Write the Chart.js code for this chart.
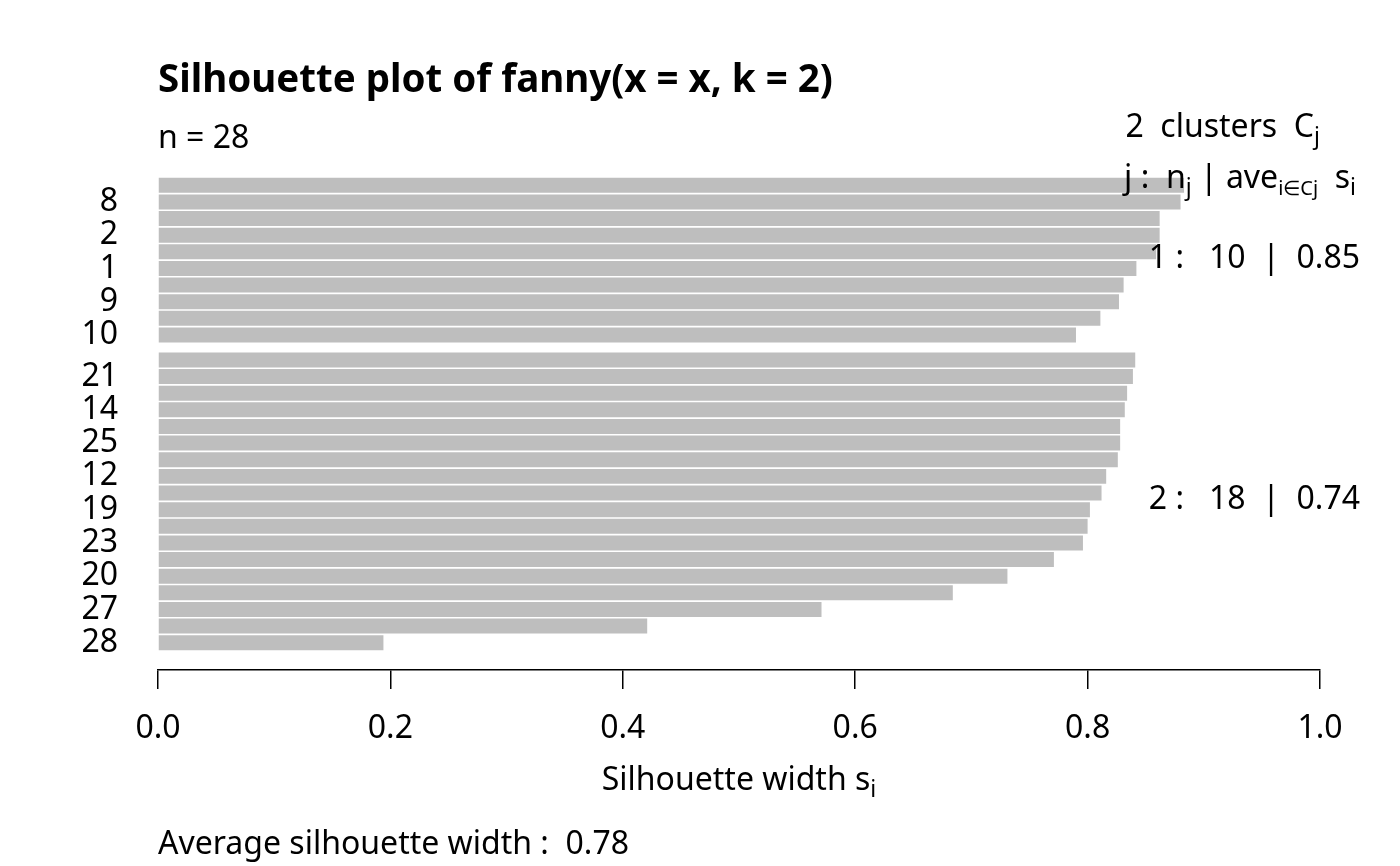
<!DOCTYPE html>
<html>
<head>
<meta charset="utf-8">
<script src="https://cdn.jsdelivr.net/npm/chart.js@4.4.0/dist/chart.umd.min.js"></script>
<style>
  html, body { margin: 0; padding: 0; background: #ffffff; }
  #wrap { width: 1400px; height: 866px; }
</style>
</head>
<body>
<div id="wrap"><canvas id="silhouetteChart" width="1400" height="866"></canvas></div>
<script>
// silhouette widths, sorted within each cluster
const cluster1Widths = [0.883, 0.880, 0.862, 0.862, 0.859, 0.842, 0.831, 0.827, 0.811, 0.790];
const cluster2Widths = [0.841, 0.839, 0.834, 0.832, 0.828, 0.828, 0.826, 0.816, 0.812,
                        0.802, 0.800, 0.796, 0.771, 0.731, 0.684, 0.571, 0.421, 0.194];
// observation labels, only the ones R could fit are printed
const cluster1Labels = ['', '8', '', '2', '', '1', '', '9', '', '10'];
const cluster2Labels = ['', '21', '', '14', '', '25', '', '12', '', '19', '', '23', '', '20', '', '27', '', '28'];
const clusterAverages = [0.85, 0.74];
const overallAverage = 0.78;
const xTickValues = [0, 0.2, 0.4, 0.6, 0.8, 1.0];

const FONT = '"Noto Sans", "Open Sans", sans-serif';
const TEXT = 32;   // margin text and tick labels

// bars stacked top-down, half a bar of space between clusters
const clusters = [
  { widths: cluster1Widths, labels: cluster1Labels },
  { widths: cluster2Widths, labels: cluster2Labels }
];
const points = [];
const tickLabels = {};
const clusterCenters = [];
let pos = 0;
clusters.forEach((c, k) => {
  if (k > 0) pos += 0.5;
  const start = pos;
  c.widths.forEach((w, i) => {
    const y = pos + 0.5;
    points.push({ x: w, y: y });
    if (c.labels[i]) tickLabels[y] = c.labels[i];
    pos += 1;
  });
  clusterCenters.push((start + pos) / 2);
});
const yPad = pos * 0.04;

// draws a string made of normal and subscript pieces
function drawRich(ctx, parts, x, y, align, size) {
  let total = 0;
  parts.forEach(p => {
    p.size = p.sub ? Math.round(size * (p.scale || 0.72)) : size;
    ctx.font = p.size + 'px ' + FONT;
    p.w = ctx.measureText(p.t).width;
    total += p.w;
  });
  let cx = align === 'right' ? x - total : align === 'center' ? x - total / 2 : x;
  ctx.textAlign = 'left';
  ctx.textBaseline = 'alphabetic';
  parts.forEach(p => {
    ctx.font = p.size + 'px ' + FONT;
    ctx.fillText(p.t, cx, p.sub ? y + size * 0.22 : y);
    cx += p.w;
  });
}

const annotations = {
  id: 'silAnnotations',
  afterDraw(chart) {
    const ctx = chart.ctx;
    const area = chart.chartArea;
    const yScale = chart.scales.y;
    ctx.save();
    ctx.fillStyle = '#000000';
    ctx.textAlign = 'left';
    ctx.textBaseline = 'alphabetic';
    ctx.font = 'bold 38.5px ' + FONT;
    ctx.fillText('Silhouette plot of fanny(x = x, k = 2)', area.left, 92);
    ctx.font = TEXT + 'px ' + FONT;
    ctx.fillText('n = ' + points.length, area.left, 148);

    drawRich(ctx, [{ t: clusters.length + '  clusters  C' }, { t: 'j', sub: true }],
      area.right, 137, 'right', TEXT);
    drawRich(ctx, [{ t: 'j :  n' }, { t: 'j', sub: true }, { t: ' | ave' },
      { t: 'i\u2208Cj', sub: true, scale: 0.62 }, { t: '  s' }, { t: 'i', sub: true }],
      area.right + 36, 188, 'right', TEXT);

    clusters.forEach((c, k) => {
      const cy = yScale.getPixelForValue(clusterCenters[k]);
      drawRich(ctx, [{ t: (k + 1) + ' :   ' + c.widths.length + '  |  ' + clusterAverages[k].toFixed(2) }],
        area.right + 40, cy + 8, 'right', TEXT);
    });

    drawRich(ctx, [{ t: 'Silhouette width s' }, { t: 'i', sub: true }],
      (area.left + area.right) / 2, 790, 'center', TEXT);
    ctx.font = TEXT + 'px ' + FONT;
    ctx.textAlign = 'left';
    ctx.fillText('Average silhouette width :  ' + overallAverage.toFixed(2), area.left, 854);
    ctx.restore();
  }
};

const ctx = document.getElementById('silhouetteChart').getContext('2d');
new Chart(ctx, {
  type: 'bar',
  data: {
    datasets: [{
      data: points,
      backgroundColor: '#bebebe',
      borderWidth: 0,
      barPercentage: 0.9,
      categoryPercentage: 1
    }]
  },
  options: {
    responsive: false,
    animation: false,
    indexAxis: 'y',
    layout: { padding: { left: 0, right: 80, top: 158, bottom: 96 } },
    plugins: { legend: { display: false }, tooltip: { enabled: false } },
    scales: {
      x: {
        type: 'linear',
        position: 'bottom',
        min: 0,
        max: 1,
        afterBuildTicks: s => { s.ticks = xTickValues.map(v => ({ value: v })); },
        ticks: {
          callback: v => Number(v).toFixed(1),
          color: '#000000',
          font: { family: FONT, size: TEXT },
          padding: 21,
          maxRotation: 0
        },
        grid: { drawOnChartArea: false, drawTicks: true, tickLength: 19, color: '#000000', lineWidth: 1.5 },
        border: { display: true, color: '#000000', width: 1.5 },
        afterFit: s => { s.height = 100; }
      },
      y: {
        type: 'linear',
        reverse: true,
        offset: false,
        min: -yPad,
        max: pos + yPad,
        afterBuildTicks: s => { s.ticks = Object.keys(tickLabels).map(v => ({ value: Number(v) })); },
        ticks: {
          autoSkip: false,
          callback: v => tickLabels[v] || '',
          color: '#000000',
          font: { family: FONT, size: TEXT },
          padding: 32
        },
        grid: { display: false },
        border: { display: false },
        afterFit: s => { s.width = 158; }
      }
    }
  },
  plugins: [annotations]
});
</script>
</body>
</html>
